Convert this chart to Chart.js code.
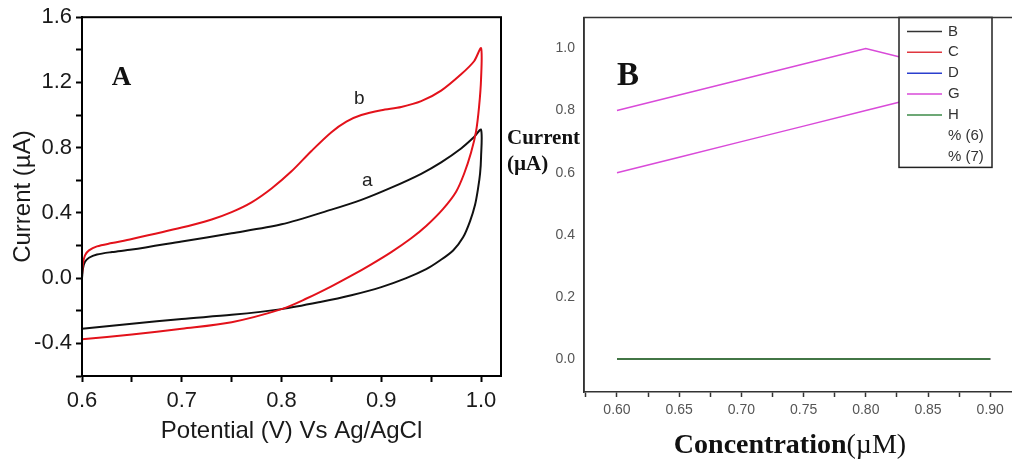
<!DOCTYPE html>
<html>
<head>
<meta charset="utf-8">
<script src="https://cdn.jsdelivr.net/npm/chart.js@4.4.0/dist/chart.umd.min.js"></script>
<style>
  html, body { margin: 0; padding: 0; background: #fff; }
  body { width: 1012px; height: 465px; position: relative; overflow: hidden; }
  #cvA { position: absolute; left: 0; top: 0; }
  #cvB { position: absolute; left: 505px; top: 0; }
</style>
</head>
<body>
<canvas id="cvA" width="505" height="465"></canvas>
<canvas id="cvB" width="507" height="465"></canvas>
<script>
// ---- panel A : CV curves, anodic sweep then cathodic sweep ----
const aPot = [0.600, 0.601, 0.603, 0.607, 0.615, 0.63, 0.65, 0.70, 0.75, 0.80, 0.85, 0.88, 0.91, 0.94, 0.96, 0.98, 0.993, 1.000,
              1.000, 0.999, 0.997, 0.994, 0.989, 0.982, 0.972, 0.958, 0.945, 0.925, 0.90, 0.87, 0.84, 0.80, 0.75, 0.70, 0.65, 0.60];
const aCur = [0.00, 0.06, 0.10, 0.125, 0.145, 0.16, 0.175, 0.225, 0.275, 0.33, 0.42, 0.48, 0.555, 0.64, 0.71, 0.795, 0.865, 0.91,
              0.74, 0.64, 0.55, 0.45, 0.35, 0.25, 0.17, 0.105, 0.055, 0.0, -0.055, -0.105, -0.145, -0.19, -0.225, -0.25, -0.28, -0.31];

const bPot = [0.600, 0.601, 0.603, 0.607, 0.615, 0.63, 0.65, 0.70, 0.73, 0.75, 0.77, 0.79, 0.81, 0.83, 0.85, 0.865, 0.88, 0.90, 0.92, 0.94, 0.96, 0.98, 0.993, 1.000,
              1.000, 0.998, 0.995, 0.990, 0.983, 0.975, 0.962, 0.945, 0.93, 0.91, 0.89, 0.87, 0.85, 0.825, 0.80, 0.75, 0.70, 0.65, 0.60];
const bCur = [0.02, 0.09, 0.14, 0.17, 0.195, 0.215, 0.24, 0.31, 0.36, 0.405, 0.465, 0.55, 0.655, 0.78, 0.895, 0.96, 1.00, 1.03, 1.05, 1.085, 1.15, 1.25, 1.33, 1.41,
              1.22, 1.05, 0.90, 0.77, 0.64, 0.53, 0.425, 0.32, 0.245, 0.16, 0.085, 0.015, -0.05, -0.125, -0.19, -0.27, -0.31, -0.345, -0.375];

// ---- panel B : current vs concentration ----
const concG = [0.60, 0.65, 0.70, 0.75, 0.80, 0.85];
const gUpper = [0.80, 0.85, 0.90, 0.95, 1.00, 0.95];
const gLower = [0.60, 0.65, 0.70, 0.75, 0.80, 0.85];
const concH = [0.60, 0.65, 0.70, 0.75, 0.80, 0.85, 0.90];
const zeroVals = [0, 0, 0, 0, 0, 0, 0];
const legendNames = ['B', 'C', 'D', 'G', 'H', '% (6)', '% (7)'];

const pts = (xs, ys) => xs.map((x, i) => ({ x: x, y: ys[i] }));
const isMult = (v, s) => Math.abs(v / s - Math.round(v / s)) < 1e-6;
const SANS = "'Liberation Sans', Arial, sans-serif";
const SERIF = "'Liberation Serif', 'Times New Roman', serif";

// frame + letters for panel A
const panelA = {
  id: 'panelA',
  afterDraw(chart) {
    const { ctx, chartArea: ca, scales } = chart;
    ctx.save();
    ctx.strokeStyle = '#000';
    ctx.lineWidth = 2;
    ctx.strokeRect(ca.left, ca.top, ca.right - ca.left, ca.bottom - ca.top);
    const X = v => scales.x.getPixelForValue(v), Y = v => scales.y.getPixelForValue(v);
    ctx.textAlign = 'center';
    ctx.textBaseline = 'middle';
    ctx.fillStyle = '#111';
    ctx.font = 'bold 27px ' + SERIF;
    ctx.fillText('A', X(0.6395), Y(1.23));
    ctx.font = '19px ' + SANS;
    ctx.fillStyle = '#222';
    ctx.fillText('b', X(0.878), Y(1.10));
    ctx.fillText('a', X(0.886), Y(0.60));
    ctx.restore();
  }
};

new Chart(document.getElementById('cvA'), {
  type: 'scatter',
  data: {
    datasets: [
      { label: 'b', data: pts(bPot, bCur), borderColor: '#e3121b', order: 0 },
      { label: 'a', data: pts(aPot, aCur), borderColor: '#111111', order: 1 }
    ].map(d => Object.assign(d, { showLine: true, pointRadius: 0, borderWidth: 2, tension: 0.3, fill: false }))
  },
  options: {
    responsive: false,
    animation: false,
    devicePixelRatio: 1,
    layout: { padding: { left: 0, top: 14, right: 4, bottom: 0 } },
    plugins: { legend: { display: false }, tooltip: { enabled: false } },
    scales: {
      x: {
        type: 'linear', min: 0.6, max: 1.02,
        ticks: {
          stepSize: 0.05, includeBounds: false, autoSkip: false, maxRotation: 0,
          callback: v => isMult(v, 0.1) ? v.toFixed(1) : '',
          font: { family: SANS, size: 22 }, color: '#1a1a1a', padding: 6
        },
        grid: { drawOnChartArea: false, drawTicks: true, tickLength: 6, tickColor: '#000', tickWidth: 2 },
        border: { display: true, color: '#000', width: 2 },
        title: { display: true, text: 'Potential (V) Vs Ag/AgCl', font: { family: SANS, size: 24 }, color: '#1a1a1a', padding: { top: 0, bottom: 19 } },
        afterFit: s => { s.height = 89; }
      },
      y: {
        type: 'linear', min: -0.6, max: 1.6,
        ticks: {
          stepSize: 0.2, includeBounds: false, autoSkip: false,
          callback: v => isMult(v, 0.4) ? v.toFixed(1) : '',
          font: { family: SANS, size: 22 }, color: '#1a1a1a', padding: 4
        },
        grid: { drawOnChartArea: false, drawTicks: true, tickLength: 6, tickColor: '#000', tickWidth: 2 },
        border: { display: true, color: '#000', width: 2 },
        title: { display: true, text: 'Current (\u00b5A)', font: { family: SANS, size: 24 }, color: '#1a1a1a', padding: { top: 9, bottom: 0 } },
        afterFit: s => { s.width = 82; }
      }
    }
  },
  plugins: [panelA]
});

// frame, texts and boxed legend for panel B
const panelB = {
  id: 'panelB',
  afterDatasetsDraw(chart) {
    const { ctx, chartArea: ca } = chart;
    ctx.save();
    // legend box
    const lx = ca.right - 112, ly = ca.top, lw = 93, lh = 150;
    ctx.fillStyle = '#fff';
    ctx.fillRect(lx, ly, lw, lh);
    ctx.strokeStyle = '#222';
    ctx.lineWidth = 1.5;
    ctx.strokeRect(lx, ly, lw, lh);
    ctx.font = '15px ' + SANS;
    ctx.textBaseline = 'middle';
    ctx.textAlign = 'left';
    const shown = chart.data.datasets.filter(d => !d.hideInLegend);
    shown.forEach((d, i) => {
      const y = ly + 14 + i * 20.9;
      if (d.borderColor !== 'transparent') {
        ctx.strokeStyle = d.borderColor;
        ctx.lineWidth = 1.5;
        ctx.beginPath();
        ctx.moveTo(lx + 8, y);
        ctx.lineTo(lx + 43, y);
        ctx.stroke();
      }
      ctx.fillStyle = '#333';
      ctx.fillText(d.label, lx + 49, y);
    });
    ctx.restore();
  },
  afterDraw(chart) {
    const { ctx, chartArea: ca, scales } = chart;
    ctx.save();
    ctx.strokeStyle = '#333';
    ctx.lineWidth = 1.5;
    ctx.beginPath();
    ctx.moveTo(ca.left, ca.bottom);
    ctx.lineTo(ca.left, ca.top);
    ctx.lineTo(ca.right + 5, ca.top);
    ctx.stroke();
    ctx.fillStyle = '#111';
    ctx.textBaseline = 'middle';
    ctx.textAlign = 'center';
    ctx.font = 'bold 33px ' + SERIF;
    ctx.fillText('B', scales.x.getPixelForValue(0.6088), scales.y.getPixelForValue(0.91));
    // y label, horizontal, two lines
    ctx.textAlign = 'left';
    ctx.font = 'bold 21px ' + SERIF;
    ctx.fillText('Current', 2, 139);
    ctx.fillText('(\u00b5A)', 2, 165);
    // x label, bold word + regular unit
    const w1 = 'Concentration', w2 = '(\u00b5M)';
    ctx.font = 'bold 28px ' + SERIF;
    const m1 = ctx.measureText(w1).width;
    ctx.font = '28px ' + SERIF;
    const m2 = ctx.measureText(w2).width;
    const x0 = 285 - (m1 + m2) / 2;
    ctx.font = 'bold 28px ' + SERIF;
    ctx.fillText(w1, x0, 446);
    ctx.font = '28px ' + SERIF;
    ctx.fillText(w2, x0 + m1, 446);
    ctx.restore();
  }
};

const lineB = (label, data, color, order, extra) => Object.assign({
  label: label, data: data, borderColor: color, showLine: true, pointRadius: 0,
  borderWidth: 1.5, tension: 0, fill: false, order: order
}, extra || {});

new Chart(document.getElementById('cvB'), {
  type: 'scatter',
  data: {
    datasets: [
      lineB(legendNames[0], pts(concH, zeroVals), '#333333', 3),
      lineB(legendNames[1], pts(concH, zeroVals), '#e0373f', 3),
      lineB(legendNames[2], pts(concH, zeroVals), '#2b3fce', 3),
      lineB(legendNames[3], pts(concG, gUpper), '#d94ad9', 1),
      lineB(legendNames[4], pts(concH, zeroVals), '#3d8b48', 0),
      lineB(legendNames[5], [], 'transparent', 4),
      lineB(legendNames[6], [], 'transparent', 4),
      lineB('G', pts(concG, gLower), '#d94ad9', 1, { hideInLegend: true })
    ]
  },
  options: {
    responsive: false,
    animation: false,
    devicePixelRatio: 1,
    layout: { padding: { left: 0, top: 17, right: 1, bottom: 0 } },
    plugins: { legend: { display: false }, tooltip: { enabled: false } },
    scales: {
      x: {
        type: 'linear', min: 0.5735, max: 0.9167,
        ticks: {
          stepSize: 0.025, includeBounds: false, autoSkip: false, maxRotation: 0,
          callback: v => isMult(v, 0.05) ? v.toFixed(2) : '',
          font: { family: SANS, size: 14 }, color: '#555', padding: 5
        },
        grid: { drawOnChartArea: false, drawTicks: true, tickLength: 5, tickColor: '#333', tickWidth: 1.5 },
        border: { display: true, color: '#333', width: 1.5 },
        afterFit: s => { s.height = 73; }
      },
      y: {
        type: 'linear', min: -0.106, max: 1.1,
        ticks: {
          stepSize: 0.2, includeBounds: false, autoSkip: false,
          callback: v => v.toFixed(1),
          font: { family: SANS, size: 14 }, color: '#555', padding: 9
        },
        grid: { display: false, drawTicks: false },
        border: { display: true, color: '#333', width: 1.5 },
        afterFit: s => { s.width = 79; }
      }
    }
  },
  plugins: [panelB]
});
</script>
</body>
</html>
